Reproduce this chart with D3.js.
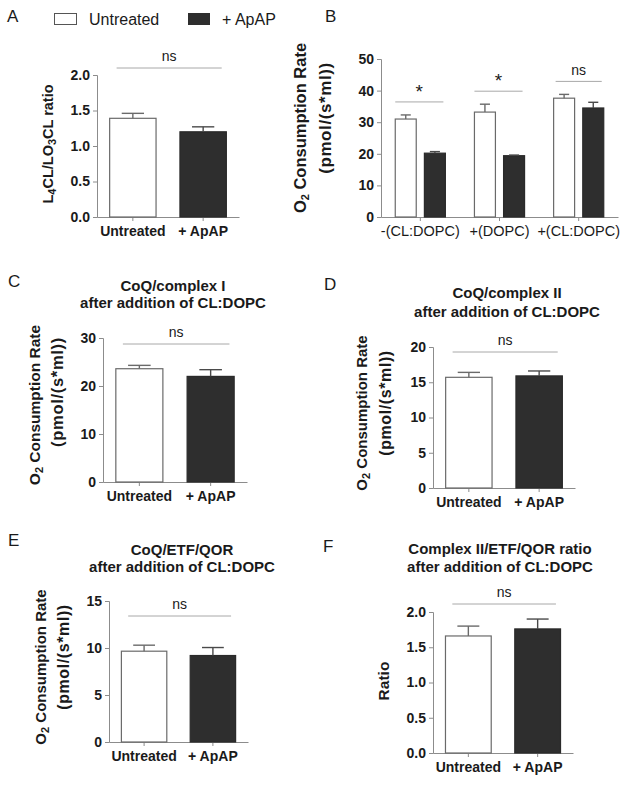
<!DOCTYPE html>
<html>
<head>
<meta charset="utf-8">
<script src="https://cdn.jsdelivr.net/npm/d3@7"></script>
<style>
  html, body { margin: 0; padding: 0; background: #fff; }
  svg { display: block; }
  text { font-family: "Liberation Sans", Arial, sans-serif; fill: #1a1a1a; }
</style>
</head>
<body>
<svg id="chart" width="629" height="785"></svg>
<script>
// ---------------- DATA ----------------
const groups = ["Untreated", "+ ApAP"];

// Panel A: L4CL/LO3CL ratio
const aMeans = [1.39, 1.20];
const aSem   = [0.07, 0.07];
const aTicks = [0, 0.5, 1.0, 1.5, 2.0];

// Panel B: O2 consumption, three conditions
const bCategories = ["-(CL:DOPC)", "+(DOPC)", "+(CL:DOPC)"];
const bUntreated    = [31.0, 33.2, 37.6];
const bUntreatedSem = [1.3, 2.5, 1.2];
const bApap         = [20.2, 19.4, 34.5];
const bApapSem      = [0.5, 0.2, 1.8];
const bSig          = ["*", "*", "ns"];
const bTicks = [0, 10, 20, 30, 40, 50];

// Panel C: CoQ/complex I
const cMeans = [23.6, 22.0];
const cSem   = [0.7, 1.4];
const cTicks = [0, 10, 20, 30];

// Panel D: CoQ/complex II
const dMeans = [15.7, 15.9];
const dSem   = [0.7, 0.7];
const dTicks = [0, 5, 10, 15, 20];

// Panel E: CoQ/ETF/QOR
const eMeans = [9.66, 9.2];
const eSem   = [0.64, 0.85];
const eTicks = [0, 5, 10, 15];

// Panel F: Complex II/ETF/QOR ratio
const fMeans = [1.66, 1.76];
const fSem   = [0.14, 0.14];
const fTicks = [0, 0.5, 1.0, 1.5, 2.0];

// ---------------- STYLE ----------------
const WHITE = "#ffffff", DARK = "#2e2e2e", BAR_STROKE = "#6a6a6a";
const AXIS = "#8c8c8c", SIGLINE = "#a8a8a8";
const fills = [WHITE, DARK];

const svg = d3.select("#chart");

function fmtTick(ticks) {
  const dec = ticks.some(t => !Number.isInteger(t)) ? 1 : 0;
  return d3.format("." + dec + "f");
}

function drawAxes(g, x, y, ticks, L, xLabelStyle) {
  const ya = g.append("g").attr("transform", `translate(${L.x0},0)`)
    .call(d3.axisLeft(y).tickValues(ticks).tickSize(4).tickPadding(3).tickFormat(fmtTick(ticks)));
  ya.select(".domain").attr("stroke", AXIS);
  ya.selectAll(".tick line").attr("stroke", AXIS);
  ya.selectAll(".tick text").style("font-family", "Liberation Sans, Arial, sans-serif")
    .style("font-size", "14px").style("font-weight", "bold").attr("fill", "#1a1a1a");
  const xa = g.append("g").attr("transform", `translate(0,${L.yBottom})`)
    .call(d3.axisBottom(x).tickSize(4).tickPadding(5).tickSizeOuter(0));
  xa.select(".domain").attr("stroke", AXIS);
  xa.selectAll(".tick line").attr("stroke", AXIS);
  xa.selectAll(".tick text").style("font-family", "Liberation Sans, Arial, sans-serif")
    .style("font-size", xLabelStyle.size).style("font-weight", xLabelStyle.weight)
    .attr("fill", "#1a1a1a");
}

function drawBar(g, xLeft, w, y, mean, sem, fill) {
  const edge = fill === WHITE ? BAR_STROKE : "#2a2a2a";
  const err = fill === WHITE ? BAR_STROKE : "#4a4a4a";
  g.append("rect").attr("x", xLeft).attr("y", y(mean))
    .attr("width", w).attr("height", y(0) - y(mean))
    .attr("fill", fill).attr("stroke", edge).attr("stroke-width", 1.2);
  const cx = xLeft + w / 2, cap = w * 0.24;
  g.append("line").attr("x1", cx).attr("x2", cx).attr("y1", y(mean)).attr("y2", y(mean + sem))
    .attr("stroke", err).attr("stroke-width", 1.4);
  g.append("line").attr("x1", cx - cap).attr("x2", cx + cap).attr("y1", y(mean + sem)).attr("y2", y(mean + sem))
    .attr("stroke", err).attr("stroke-width", 1.4);
}

function sigMark(g, x1, x2, yLine, label, labelY) {
  g.append("line").attr("x1", x1).attr("x2", x2).attr("y1", yLine).attr("y2", yLine)
    .attr("stroke", SIGLINE).attr("stroke-width", 1);
  g.append("text").attr("x", (x1 + x2) / 2).attr("y", labelY).attr("text-anchor", "middle")
    .style("font-size", label === "*" ? "19px" : "14px").attr("fill", "#333").text(label);
}

function panelLetter(x, y, t) {
  svg.append("text").attr("x", x).attr("y", y).style("font-size", "17px").text(t);
}

function title(cx, y1, y2, l1, l2) {
  const t = svg.append("text").attr("text-anchor", "middle").style("font-size", "15px").style("font-weight", "bold");
  t.append("tspan").attr("x", cx).attr("y", y1).text(l1);
  t.append("tspan").attr("x", cx).attr("y", y2).text(l2);
}

// rotated y title with subscript support; parts: [{t, sub}]
function yTitleLine(cx, cy, parts, size, spacing) {
  const t = svg.append("text").attr("transform", `translate(${cx},${cy}) rotate(-90)`)
    .attr("text-anchor", "middle").attr("dominant-baseline", "middle")
    .style("font-size", size || "15px").style("font-weight", "bold");
  if (spacing) t.style("letter-spacing", spacing + "px");
  let shift = 0;
  parts.forEach(p => {
    const ts = t.append("tspan").text(p.t);
    if (p.sub) { ts.attr("dy", 4).style("font-size", "11px"); shift = 4; }
    else if (shift) { ts.attr("dy", -shift); shift = 0; }
  });
  return t;
}
function o2Title(c1, cy1, c2, cy2, size, size2, spacing) {
  yTitleLine(c1, cy1, [{t: "O"}, {t: "2", sub: true}, {t: " Consumption Rate"}], size);
  yTitleLine(c2, cy2, [{t: "(pmol/(s*ml))"}], size2, spacing);
}

function twoBarPanel(L, means, sem, ticks) {
  const g = svg.append("g");
  const y = d3.scaleLinear().domain([0, d3.max(ticks)]).range([L.yBottom, L.yTop]);
  const x = d3.scaleBand().domain(groups).range([L.x0, L.x1]).paddingInner(0.34).paddingOuter(0.18);
  drawAxes(g, x, y, ticks, L, {size: "14px", weight: "bold"});
  groups.forEach((gr, i) => drawBar(g, x(gr), x.bandwidth(), y, means[i], sem[i], fills[i]));
  const x1 = x(groups[0]) + x.bandwidth() * 0.15, x2 = x(groups[1]) + x.bandwidth() * 0.9;
  sigMark(g, x1, x2, L.sigY, "ns", L.sigY - 7);
  return {x, y};
}

// ---------------- LEGEND ----------------
svg.append("rect").attr("x", 54.5).attr("y", 13.5).attr("width", 22).attr("height", 11)
  .attr("fill", WHITE).attr("stroke", "#555");
svg.append("text").attr("x", 89).attr("y", 25).style("font-size", "16px").text(groups[0]);
svg.append("rect").attr("x", 188).attr("y", 13).attr("width", 22).attr("height", 12).attr("fill", DARK);
svg.append("text").attr("x", 222).attr("y", 25).style("font-size", "16px").text(groups[1]);

// ---------------- PANEL A ----------------
panelLetter(7, 22, "A");
twoBarPanel({x0: 97, x1: 239, yTop: 75, yBottom: 217, sigY: 68}, aMeans, aSem, aTicks);
yTitleLine(49, 144, [{t: "L"}, {t: "4", sub: true}, {t: "CL/LO"}, {t: "3", sub: true}, {t: "CL ratio"}], "14.5px");

// ---------------- PANEL B ----------------
panelLetter(325, 22, "B");
(function () {
  const L = {x0: 381, x1: 618, yTop: 59, yBottom: 217};
  const g = svg.append("g");
  const y = d3.scaleLinear().domain([0, d3.max(bTicks)]).range([L.yBottom, L.yTop]);
  const x = d3.scaleBand().domain(bCategories).range([L.x0, L.x1]).paddingInner(0.367).paddingOuter(0.18);
  const xs = d3.scaleBand().domain(groups).range([0, x.bandwidth()]).paddingInner(0.28).paddingOuter(0);
  drawAxes(g, x, y, bTicks, L, {size: "14.5px", weight: "normal"});
  const series = [[bUntreated, bUntreatedSem], [bApap, bApapSem]];
  bCategories.forEach((c, ci) => {
    groups.forEach((gr, si) => {
      drawBar(g, x(c) + xs(gr), xs.bandwidth(), y, series[si][0][ci], series[si][1][ci], fills[si]);
    });
    const top = Math.max(bUntreated[ci] + bUntreatedSem[ci], bApap[ci] + bApapSem[ci]);
    const lineY = y(top) - 13;
    const x1 = x(c), x2 = x(c) + x.bandwidth() - 2;
    if (bSig[ci] === "*") sigMark(g, x1, x2, lineY, "*", lineY - 4);
    else sigMark(g, x1 + 2, x2, lineY, "ns", lineY - 6);
  });
})();
o2Title(302, 128, 327, 118, "16.5px", "17px", 0.6);

// ---------------- PANEL C ----------------
panelLetter(8, 287, "C");
title(173, 291, 308, "CoQ/complex I", "after addition of CL:DOPC");
twoBarPanel({x0: 103, x1: 247, yTop: 338, yBottom: 482, sigY: 344}, cMeans, cSem, cTicks);
o2Title(36, 405, 59, 392, "15.5px", "16.5px", 0.7);

// ---------------- PANEL D ----------------
panelLetter(324, 290, "D");
title(507, 298, 317, "CoQ/complex II", "after addition of CL:DOPC");
twoBarPanel({x0: 433, x1: 575, yTop: 347, yBottom: 488, sigY: 352}, dMeans, dSem, dTicks);
o2Title(363, 413, 387, 403, "15px", "16px", 0.6);

// ---------------- PANEL E ----------------
panelLetter(8, 546, "E");
title(182, 555, 572, "CoQ/ETF/QOR", "after addition of CL:DOPC");
twoBarPanel({x0: 109, x1: 248, yTop: 601, yBottom: 742, sigY: 616}, eMeans, eSem, eTicks);
o2Title(42, 667, 65, 657, "15px", "16px", 0.6);

// ---------------- PANEL F ----------------
panelLetter(323, 552, "F");
title(500, 554, 572, "Complex II/ETF/QOR ratio", "after addition of CL:DOPC");
twoBarPanel({x0: 433, x1: 573, yTop: 612, yBottom: 753, sigY: 604}, fMeans, fSem, fTicks);
yTitleLine(385, 681, [{t: "Ratio"}], "15.5px");
</script>
</body>
</html>
